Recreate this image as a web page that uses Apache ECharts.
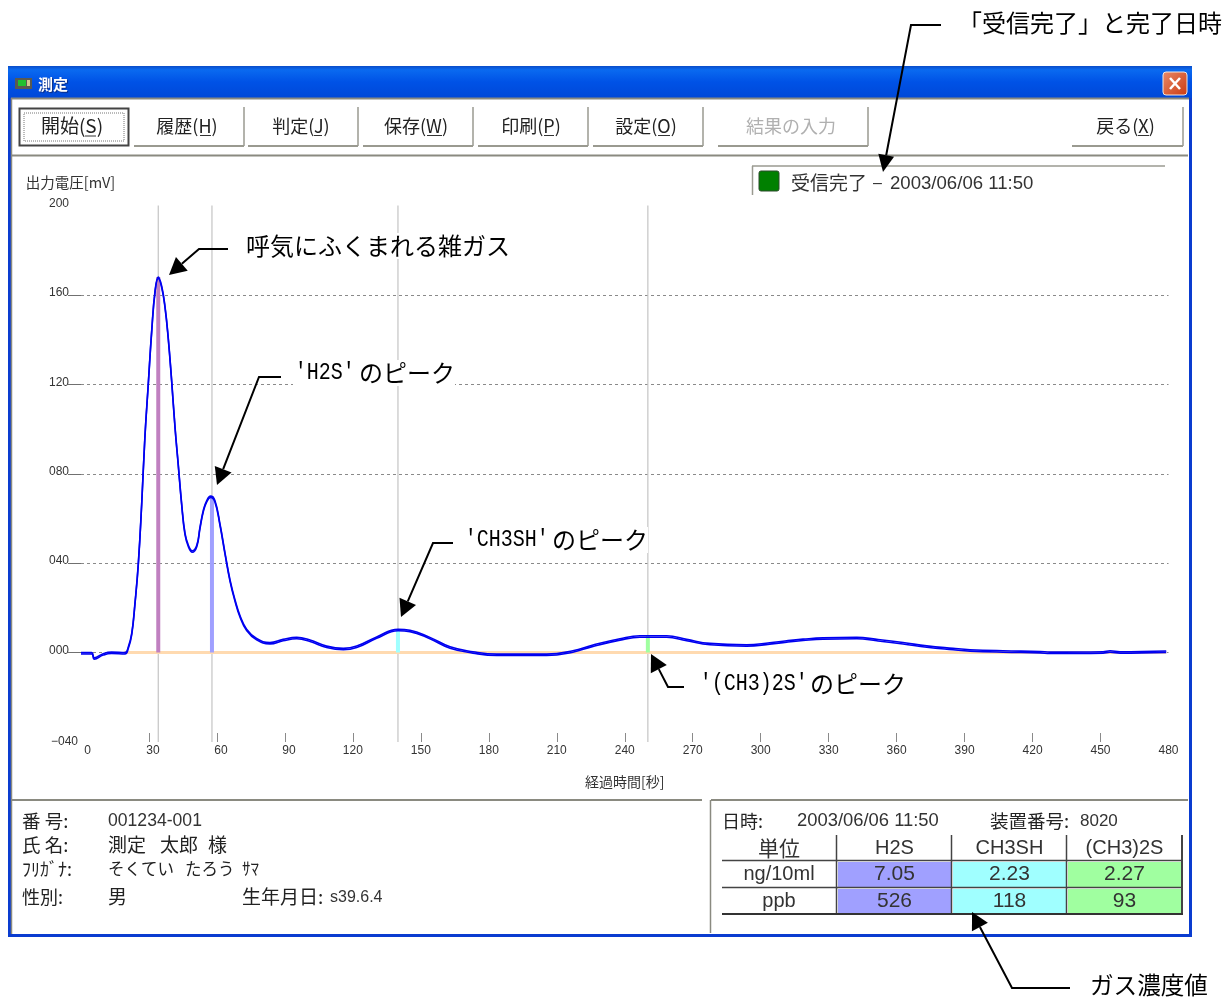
<!DOCTYPE html>
<html lang="ja">
<head>
<meta charset="utf-8">
<title>測定</title>
<style>html,body{margin:0;padding:0;background:#fff}#c{width:1229px;height:997px}</style>
<script src="https://cdn.jsdelivr.net/npm/echarts@6/dist/echarts.min.js"></script>
</head>
<body>
<div id="c"></div>
<script>
// ---- data ----
const curveTime = [0,4.7,5.9,9.8,13.5,19.4,20.9,22.4,23.8,25.3,26.8,28.2,29.7,31.2,32.7,34.1,35.6,37.1,38.5,40,41.5,42.9,44.4,45.9,47.4,49.1,51.1,52.5,54,55.5,57.2,59.1,61.3,63.6,65.8,68,70.2,73.1,77.5,83.4,89.2,95.2,101.1,108.4,115.8,121.7,130.5,140,145.2,154,162.9,173,183.5,205.5,217.1,226,237.9,246.7,258.5,267.3,277.6,293.8,304,311.5,318.7,327.5,342.4,351.2,362.8,373.3,384.9,392.4,407,423.3,427.7,451.1,454.2,458.6,479];
const curveVolt = [0,0,-2.3,-0.5,0.2,0,2.6,8.7,22,40,67,96.6,120.5,144,162,168,164,154.7,141,122,101,84.6,67,53.4,48,45.5,48,56,63.7,68,70,68,57.8,44.4,32.4,23.5,16.5,10.5,6.3,4.5,5.9,6.8,5.6,2.9,1.9,2.9,7,10.4,10,6.8,2.6,0.4,-0.7,-0.7,0.8,3.4,6.2,7.5,7.5,5.9,4.1,3.5,4.4,5.3,6,6.6,6.8,5.9,4.5,3,1.9,1.3,0.8,0.5,0.2,0.4,0.8,0.4,0.7];
const peakTimes = [34.1,57.8,139.9,250.2];
const peakVolts = [168,70,10.4,7.5];
const peakColors = ['#C080C0','#A0A0FF','#A0FFFF','#A0FFA0'];
const baselineTime = [19,479];
const xTickValues = [30,60,90,120,150,180,210,240,270,300,330,360,390,420,450];
const yTickValues = [0,40,80,120,160];
const gasNames = ['H2S','CH3SH','(CH3)2S'];
const rowNg = ['7.05','2.23','2.27'];
const rowPpb = ['526','118','93'];

// ---- helpers for the window chrome ----
const CJK = '"Noto Sans CJK JP"';
const LAT = '"Liberation Sans","Noto Sans CJK JP"';
const G = [];
function rect(x,y,w,h,fill,z,stroke,lw,dash){G.push({type:'rect',z:z===undefined?-5:z,silent:true,shape:{x,y,width:w,height:h},style:{fill:fill,stroke:stroke||null,lineWidth:lw||0,lineDash:dash||null}});}
function line(x1,y1,x2,y2,c,w,z,dash){G.push({type:'line',z:z===undefined?-4:z,silent:true,shape:{x1,y1,x2,y2},style:{stroke:c,lineWidth:w||1,lineDash:dash||null}});}
function text(x,y,s,size,color,align,font,z,extra,sx){G.push({type:'text',z:z===undefined?-3:z,silent:true,x:x,y:y,scaleX:sx||1,style:Object.assign({text:s,fill:color||'#222',fontSize:size,fontFamily:font||CJK,align:align||'left',verticalAlign:'middle'},extra||{})});}
function arrow(pts,len,half){
  const n=pts.length,tip=pts[n-1],prev=pts[n-2];
  const dx=tip[0]-prev[0],dy=tip[1]-prev[1],d=Math.hypot(dx,dy),ux=dx/d,uy=dy/d;
  const bx=tip[0]-ux*len,by=tip[1]-uy*len;
  const p=pts.slice(0,n-1).concat([[bx,by]]);
  G.push({type:'polyline',z:50,silent:true,shape:{points:p},style:{stroke:'#000',lineWidth:2,fill:null}});
  G.push({type:'polygon',z:50,silent:true,shape:{points:[tip,[bx-uy*half,by+ux*half],[bx+uy*half,by-ux*half]]},style:{fill:'#000'}});
}

// window frame
rect(8,66,1184,871,'#0A3CD0');
G.push({type:'rect',z:-5,silent:true,shape:{x:8,y:66,width:1184,height:32},style:{fill:{type:'linear',x:0,y:0,x2:0,y2:1,colorStops:[{offset:0,color:'#0A4CC8'},{offset:.12,color:'#0A6AF0'},{offset:.5,color:'#0052E6'},{offset:1,color:'#0048D8'}]}}});
rect(11,98,1178,836,'#FFFFFF');
line(11,98.5,1189,98.5,'#8A8A80',2);
line(11.5,98,11.5,934,'#8A8A80',1.5);
// title bar
rect(15,78,17,11,'#5A5A50',-3); rect(18,80,8,6,'#20C030',-2); rect(27,80,3,6,'#D0C890',-2);
text(38,84,'測定',15,'#FFFFFF','left',CJK,-2,{fontWeight:'bold',textShadowColor:'#0A2A80',textShadowBlur:1,textShadowOffsetX:1,textShadowOffsetY:1});
G.push({type:'rect',z:-3,silent:true,shape:{x:1163,y:72,width:24,height:23,r:3},style:{fill:{type:'linear',x:0,y:0,x2:1,y2:1,colorStops:[{offset:0,color:'#E88A68'},{offset:1,color:'#CC3A10'}]},stroke:'#F0E8E0',lineWidth:1}});
line(1170,78,1180,89,'#FFFFFF',2.5,-2); line(1180,78,1170,89,'#FFFFFF',2.5,-2);

// toolbar buttons: left, right, label, colour, underline start, underline end
const buttons=[[134,244,'履歴(H)','#222',200,211],[248,358,'判定(J)','#222',314,322],[363,473,'保存(W)','#222',427,442],[478,588,'印刷(P)','#222',544,554],[593,703,'設定(O)','#222',658,670],[718,868,'結果の入力','#B0B0B0',0,0],[1072,1183,'戻る(X)','#222',1138,1149]];
buttons.forEach(b=>{
  line(b[0],146,b[1],146,'#9A9A90',2);
  line(b[1],107,b[1],146,'#9A9A90',1.5);
  text((b[0]+b[1])/2-2,126,b[2],18,b[3],'center');
  if(b[5]) line(b[4],135.5,b[5],135.5,'#333',1,-2);
});
rect(19.5,108.5,109,37,'#FFFFFF',-4,'#444',2);
rect(24,113,100,28,null,-3,'#777',1,[1,1]);
text(72,126,'開始(S)',19,'#222','center');
line(85,136,96,136,'#333',1,-2);
line(11,155.5,1188,155.5,'#8A8A80',2);

// status box
line(752,166,1165,166,'#9A9A90',1.5);
line(752.5,166,752.5,195,'#9A9A90',1.5);
G.push({type:'rect',z:-3,silent:true,shape:{x:759,y:171,width:20,height:20,r:2},style:{fill:'#008000',stroke:'#2A4A2A',lineWidth:1}});
text(791,183,'受信完了',19,'#333');
text(873,184,'–',16,'#333','left',LAT);
text(890,183.5,'2003/06/06 11:50',18.6,'#333','left',LAT);

// bottom panels
line(12,800,702,800,'#8A8A80',2);
line(711,800,1188,800,'#8A8A80',2);
line(710.5,800,710.5,933,'#8A8A80',1.5);
text(22,821,'番 号:',18.5); text(108,821,'001234-001',17.6,'#333','left',LAT);
text(22,845,'氏 名:',18.5); text(108,845,'測定',19); text(160,845,'太郎',19); text(208,845,'様',19);
text(22,869,'ﾌﾘｶﾞﾅ:',18); text(108,869,'そくてい',16.5); text(185,869,'たろう',16.5); text(242,869,'ｻﾏ',17);
text(22,897,'性別:',18); text(108,897,'男',19);
text(242,897,'生年月日:',19); text(330,898,'s39.6.4',16,'#333','left',LAT);
text(722,821,'日時:',18); text(797,821,'2003/06/06 11:50',18.4,'#333','left',LAT);
text(990,821,'装置番号:',18.5); text(1080,821,'8020',17,'#333','left',LAT);

// concentration table
const colX=[722,837,952,1067,1182];
const rowY=[835,861,888,914];
const cellFill=['#A0A0FF','#A0FFFF','#A0FFA0'];
for(let c=0;c<3;c++){
  rect(colX[c+1]+1,rowY[1]+1,colX[c+2]-colX[c+1]-2,rowY[2]-rowY[1]-2,cellFill[c]);
  rect(colX[c+1]+1,rowY[2]+1,colX[c+2]-colX[c+1]-2,rowY[3]-rowY[2]-2,cellFill[c]);
  text((colX[c+1]+colX[c+2])/2,848,gasNames[c],20,'#333','center',LAT);
  text((colX[c+1]+colX[c+2])/2,874,rowNg[c],21,'#333','center',LAT);
  text((colX[c+1]+colX[c+2])/2,901,rowPpb[c],21,'#333','center',LAT);
  line(colX[c+1]-.5,rowY[0],colX[c+1]-.5,rowY[3],'#444',1.5,-3);
}
line(1182,835,1182,914,'#444',2,-3);
line(722,860.5,1182,860.5,'#444',1.5,-3);
line(722,887.5,1182,887.5,'#444',1.5,-3);
line(722,914,1183,914,'#333',2,-3);
text(779,848,'単位',21,'#333','center');
text(779,874,'ng/10ml',20,'#333','center',LAT);
text(779,901,'ppb',20,'#333','center',LAT);

// callouts
const MONO='"Liberation Mono","DejaVu Sans Mono"';
const box={backgroundColor:'#FFFFFF',padding:[1,0,1,2]};
arrow([[228,249],[199,249],[169,275]],17,9);
arrow([[281,377],[259,377],[217,485]],17,9);
arrow([[453,543],[433,543],[401,617]],17,9);
arrow([[684,687],[668,687],[651,654]],17,9);
arrow([[941,25],[911,25],[883,172]],17,8);
arrow([[1070,988],[1012,988],[972,912]],17,9);
text(244,246,'呼気にふくまれる雑ガス',24,'#000','left',CJK,40,box);
text(293,373,"'H2S'",23,'#000','left',MONO,40,box,0.87);
text(357,373,"のピーク",24,'#000','left',CJK,40,box);
text(463,540,"'CH3SH'",23,'#000','left',MONO,40,box,0.87);
text(550,540,"のピーク",24,'#000','left',CJK,40,box);
text(698,684,"'(CH3)2S'",23,'#000','left',MONO,40,box,0.87);
text(808,684,"のピーク",24,'#000','left',CJK,40,box);
text(958,23,'「受信完了」と完了日時',24,'#000','left',CJK,40);
text(1090,985,'ガス濃度値',23.6,'#000','left',CJK,40);

// ---- series ----
const series=[];
series.push({type:'line',name:'baseline',data:baselineTime.map(t=>[t,0]),symbol:'none',lineStyle:{color:'#FFDAB0',width:3},z:3,silent:true});
peakTimes.forEach((t,i)=>{
  series.push({type:'line',name:'guide'+i,data:[[t,200],[t,-40]],symbol:'none',lineStyle:{color:'#C4C4C4',width:1.2},z:2,silent:true});
  series.push({type:'line',name:'peak'+i,data:[[t,0],[t,peakVolts[i]]],symbol:'none',lineStyle:{color:peakColors[i],width:4},z:4,silent:true});
});
series.push({type:'line',name:'出力電圧',data:curveTime.map((t,i)=>[t,curveVolt[i]]),symbol:'none',smooth:0.45,lineStyle:{color:'#0000F0',width:1.6,shadowColor:'#0000F0',shadowBlur:0,shadowOffsetY:1.4},z:5,silent:true});

const chart=echarts.init(document.getElementById('c'));
chart.setOption({
  animation:false,
  backgroundColor:'#FFFFFF',
  textStyle:{fontFamily:LAT},
  grid:{left:81,right:60.5,top:205.5,bottom:255,containLabel:false},
  xAxis:{type:'value',min:0,max:480,interval:30,
    name:'経過時間[秒]',nameLocation:'middle',nameGap:33,nameTextStyle:{fontSize:14,color:'#333',fontFamily:CJK},
    axisLine:{show:false,onZero:false},
    axisTick:{show:true,inside:true,length:9,customValues:xTickValues,lineStyle:{color:'#8A8A8A',width:1}},
    axisLabel:{margin:3,fontSize:12,color:'#333',showMinLabel:true,showMaxLabel:true,
      formatter:v=>v===0?'{z|0}':(v<100?'{d|'+v+'}':'{n|'+v+'}'),
      rich:{z:{fontSize:12,color:'#333',padding:[0,0,0,13]},d:{fontSize:12,color:'#333',padding:[0,0,0,8]},n:{fontSize:12,color:'#333'}}},
    splitLine:{show:false}},
  yAxis:{type:'value',min:-40,max:200,interval:40,
    name:'出力電圧[mV]',nameLocation:'end',nameGap:16,nameTextStyle:{fontSize:14.5,color:'#333',fontFamily:CJK,align:'center',padding:[0,21,0,0]},
    axisLine:{show:false},
    axisTick:{show:true,length:13,customValues:yTickValues,lineStyle:{color:'#707070',width:1}},
    axisLabel:{margin:32,align:'left',fontSize:12,color:'#333',showMinLabel:true,showMaxLabel:true,
      formatter:v=>v<0?'{m|−'+String(-v).padStart(3,'0')+'}':'{p|'+String(v).padStart(3,'0')+'}',
      rich:{p:{fontSize:12,color:'#333',padding:[0,0,4,0]},m:{fontSize:12,color:'#333',padding:[0,0,0,2]}}},
    splitLine:{show:true,customValues:yTickValues,lineStyle:{color:'#8A8A8A',width:1,type:[3,3]}}},
  series:series,
  graphic:{elements:G}
});
</script>
</body>
</html>
